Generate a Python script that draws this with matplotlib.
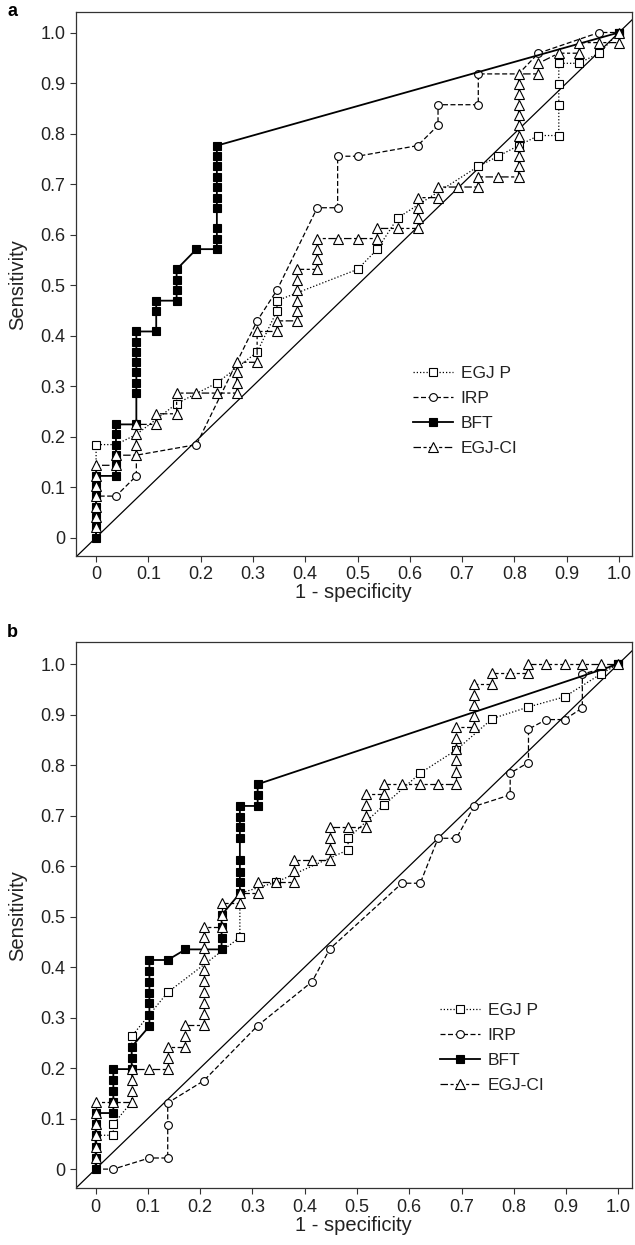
import matplotlib
matplotlib.use("Agg")
import matplotlib.pyplot as plt

plt.rcParams['font.family'] = ['Liberation Sans', 'DejaVu Sans']

# ---------------- Panel a data ----------------
a_egjp_x = [0, 0, 0.038, 0.077, 0.154, 0.231, 0.308, 0.346, 0.346, 0.500, 0.538, 0.577, 0.731, 0.769,
            0.808, 0.846, 0.885, 0.885, 0.885, 0.885, 0.923, 0.962, 1.0]
a_egjp_y = [0, 0.184, 0.184, 0.204, 0.265, 0.306, 0.367, 0.449, 0.469, 0.531, 0.571, 0.633, 0.735, 0.755,
            0.776, 0.796, 0.796, 0.857, 0.898, 0.939, 0.939, 0.959, 1.0]

a_irp_x = [0, 0, 0.038, 0.077, 0.077, 0.192, 0.308, 0.346, 0.423, 0.462, 0.462, 0.500, 0.615, 0.654,
           0.654, 0.731, 0.731, 0.808, 0.846, 0.962, 1.0]
a_irp_y = [0, 0.082, 0.082, 0.122, 0.163, 0.184, 0.429, 0.490, 0.653, 0.653, 0.755, 0.755, 0.776, 0.816,
           0.857, 0.857, 0.918, 0.918, 0.959, 1.0, 1.0]

a_bft_x = [0, 0, 0, 0, 0, 0, 0,
           0.038, 0.038, 0.038, 0.038, 0.038, 0.038,
           0.077, 0.077, 0.077, 0.077, 0.077, 0.077, 0.077, 0.077,
           0.115, 0.115, 0.115,
           0.154, 0.154, 0.154, 0.154,
           0.192,
           0.231, 0.231, 0.231, 0.231, 0.231, 0.231, 0.231, 0.231, 0.231, 0.231,
           1.0]
a_bft_y = [0, 0.020, 0.041, 0.061, 0.082, 0.102, 0.122,
           0.122, 0.143, 0.163, 0.184, 0.204, 0.224,
           0.224, 0.286, 0.306, 0.327, 0.347, 0.367, 0.388, 0.408,
           0.408, 0.449, 0.469,
           0.469, 0.490, 0.510, 0.531,
           0.571,
           0.571, 0.592, 0.612, 0.653, 0.673, 0.694, 0.714, 0.735, 0.755, 0.776,
           1.0]

a_ci_x = [0, 0, 0, 0, 0, 0, 0, 0,
          0.038, 0.038,
          0.077, 0.077, 0.077, 0.077,
          0.115, 0.115,
          0.154, 0.154,
          0.192, 0.231,
          0.269, 0.269, 0.269, 0.269,
          0.308, 0.308,
          0.346, 0.346,
          0.385, 0.385, 0.385, 0.385, 0.385, 0.385,
          0.423, 0.423, 0.423, 0.423,
          0.462, 0.500,
          0.538, 0.538,
          0.577,
          0.615, 0.615, 0.615, 0.615,
          0.654, 0.654,
          0.692,
          0.731, 0.731,
          0.769,
          0.808, 0.808, 0.808, 0.808, 0.808, 0.808, 0.808, 0.808, 0.808, 0.808, 0.808,
          0.846, 0.846,
          0.885,
          0.923, 0.923,
          0.962,
          1.0, 1.0]
a_ci_y = [0, 0.020, 0.041, 0.061, 0.082, 0.102, 0.122, 0.143,
          0.143, 0.163,
          0.163, 0.184, 0.204, 0.224,
          0.224, 0.245,
          0.245, 0.286,
          0.286, 0.286,
          0.286, 0.306, 0.327, 0.347,
          0.347, 0.408,
          0.408, 0.429,
          0.429, 0.449, 0.469, 0.490, 0.510, 0.531,
          0.531, 0.551, 0.571, 0.592,
          0.592, 0.592,
          0.592, 0.612,
          0.612,
          0.612, 0.633, 0.653, 0.673,
          0.673, 0.694,
          0.694,
          0.694, 0.714,
          0.714,
          0.714, 0.735, 0.755, 0.776, 0.796, 0.816, 0.837, 0.857, 0.878, 0.898, 0.918,
          0.918, 0.939,
          0.959,
          0.959, 0.980,
          0.980,
          0.980, 1.0]

# ---------------- Panel b data ----------------
b_egjp_x = [0, 0, 0.034, 0.034, 0.069, 0.069, 0.138, 0.276, 0.276, 0.345, 0.483, 0.483, 0.552, 0.621,
            0.690, 0.759, 0.828, 0.897, 0.966, 1.0]
b_egjp_y = [0, 0.067, 0.067, 0.089, 0.133, 0.263, 0.350, 0.459, 0.546, 0.568, 0.632, 0.655, 0.721, 0.784,
            0.830, 0.892, 0.915, 0.935, 0.980, 1.0]

b_irp_x = [0, 0.034, 0.103, 0.138, 0.138, 0.138, 0.207, 0.310, 0.414, 0.448, 0.586, 0.621, 0.655, 0.690,
           0.724, 0.793, 0.793, 0.828, 0.828, 0.862, 0.897, 0.931, 0.931, 1.0]
b_irp_y = [0, 0, 0.022, 0.022, 0.087, 0.131, 0.175, 0.284, 0.371, 0.436, 0.566, 0.566, 0.655, 0.655,
           0.718, 0.741, 0.784, 0.805, 0.871, 0.890, 0.890, 0.913, 0.980, 1.0]

b_bft_x = [0, 0, 0, 0, 0, 0,
           0.034, 0.034, 0.034, 0.034, 0.034,
           0.069, 0.069, 0.069,
           0.103, 0.103, 0.103, 0.103, 0.103, 0.103, 0.103,
           0.138, 0.172,
           0.241, 0.241, 0.241, 0.241,
           0.276, 0.276, 0.276, 0.276, 0.276, 0.276, 0.276, 0.276,
           0.310, 0.310, 0.310,
           1.0]
b_bft_y = [0, 0.022, 0.044, 0.067, 0.089, 0.111,
           0.111, 0.133, 0.154, 0.176, 0.198,
           0.198, 0.220, 0.242,
           0.283, 0.305, 0.328, 0.349, 0.371, 0.393, 0.414,
           0.414, 0.435,
           0.435, 0.457, 0.480, 0.503,
           0.546, 0.569, 0.589, 0.611, 0.655, 0.677, 0.697, 0.719,
           0.719, 0.741, 0.762,
           1.0]

b_ci_x = [0, 0, 0, 0, 0, 0, 0,
          0.034,
          0.069, 0.069, 0.069, 0.069,
          0.103,
          0.138, 0.138, 0.138,
          0.172, 0.172, 0.172,
          0.207, 0.207, 0.207, 0.207, 0.207, 0.207, 0.207, 0.207, 0.207, 0.207,
          0.241, 0.241, 0.241,
          0.276, 0.276,
          0.310, 0.310,
          0.345,
          0.379, 0.379, 0.379,
          0.414,
          0.448, 0.448, 0.448, 0.448,
          0.483,
          0.517, 0.517, 0.517, 0.517,
          0.552, 0.552,
          0.586, 0.621, 0.655,
          0.690, 0.690, 0.690, 0.690, 0.690, 0.690,
          0.724, 0.724, 0.724, 0.724, 0.724,
          0.759, 0.759,
          0.793,
          0.828, 0.828,
          0.862, 0.897, 0.931, 0.966, 1.0]
b_ci_y = [0, 0.022, 0.044, 0.067, 0.089, 0.111, 0.133,
          0.133,
          0.133, 0.155, 0.176, 0.198,
          0.198,
          0.198, 0.220, 0.242,
          0.242, 0.263, 0.285,
          0.285, 0.307, 0.328, 0.351, 0.372, 0.394, 0.415, 0.437, 0.459, 0.480,
          0.480, 0.503, 0.526,
          0.526, 0.546,
          0.546, 0.568,
          0.568,
          0.568, 0.590, 0.612,
          0.612,
          0.612, 0.634, 0.655, 0.677,
          0.677,
          0.677, 0.699, 0.721, 0.743,
          0.743, 0.763,
          0.763, 0.763, 0.763,
          0.763, 0.786, 0.809, 0.831, 0.853, 0.875,
          0.875, 0.897, 0.918, 0.939, 0.961,
          0.961, 0.982,
          0.982,
          0.982, 1.0,
          1.0, 1.0, 1.0, 1.0, 1.0]

tick_vals = [0, 0.1, 0.2, 0.3, 0.4, 0.5, 0.6, 0.7, 0.8, 0.9, 1.0]
tick_labels = ['0', '0.1', '0.2', '0.3', '0.4', '0.5', '0.6', '0.7', '0.8', '0.9', '1.0']
series_names = ['EGJ P', 'IRP', 'BFT', 'EGJ-CI']

W, H = 635, 1245
fig = plt.figure(figsize=(W / 100, H / 100), dpi=100)
TXT = '#222222'


def hidden_mask(xs, ys, hide):
    return [i for i in range(len(xs)) if (xs[i], ys[i]) not in hide]


def draw_panel(ax, data, xlim, ylim, leg_anchor, letter, letter_y):
    (ex, ey), (ix, iy), (bx, by), (cx, cy), hides = data
    ax.plot([-0.2, 1.2], [-0.2, 1.2], color='black', lw=0.9, zorder=1)
    lw = 0.9
    ax.plot(ex, ey, color='black', lw=lw, ls=(0, (1, 1.6)), marker='s', ms=5.2,
            mfc='white', mec='black', mew=0.8, markevery=hidden_mask(ex, ey, hides[0]),
            label=series_names[0], zorder=2)
    ax.plot(ix, iy, color='black', lw=lw, ls=(0, (4, 2)), marker='o', ms=5.6,
            mfc='white', mec='black', mew=0.8, markevery=hidden_mask(ix, iy, hides[1]),
            label=series_names[1], zorder=3)
    ax.plot(bx, by, color='black', lw=1.3, ls='-', marker='s', ms=5.2,
            mfc='black', mec='black', mew=0.8, markevery=hidden_mask(bx, by, hides[2]),
            label=series_names[2], zorder=4)
    ax.plot(cx, cy, color='black', lw=lw, ls=(0, (6, 2, 2.5, 2)), marker='^', ms=6.8,
            mfc='white', mec='black', mew=0.8, markevery=hidden_mask(cx, cy, hides[3]),
            label=series_names[3], zorder=5)
    ax.set_xlim(*xlim)
    ax.set_ylim(*ylim)
    ax.set_xticks(tick_vals)
    ax.set_xticklabels(tick_labels)
    ax.set_yticks(tick_vals)
    ax.set_yticklabels(tick_labels)
    ax.tick_params(direction='out', length=4.5, width=0.8, colors='#333333',
                   labelcolor=TXT, labelsize=13, pad=3)
    for s in ax.spines.values():
        s.set_color('#333333')
        s.set_linewidth(0.9)
    ax.set_xlabel('1 - specificity', fontsize=14.5, color=TXT)
    ax.set_ylabel('Sensitivity', fontsize=14.5, color=TXT)
    ax.xaxis.set_label_coords(0.5, -0.05)
    ax.yaxis.set_label_coords(-0.088, 0.5)
    leg = ax.legend(loc='upper left', bbox_to_anchor=leg_anchor, frameon=False,
                    fontsize=12.5, handlelength=2.3, handletextpad=0.45,
                    labelspacing=0.56, borderpad=0, borderaxespad=0)
    for t in leg.get_texts():
        t.set_color(TXT)
    fig.text(12 / W, 1 - letter_y / H, letter, fontsize=13, fontweight='bold',
             ha='center', va='center', color='black')


left = 75.7 / W
width = (632 - 75.7) / W
ax_a = fig.add_axes([left, 1 - 556 / H, width, (556 - 12.3) / H])
ax_b = fig.add_axes([left, 1 - 1188.3 / H, width, (1188.3 - 642.3) / H])

hides_a = [{(0, 0), (0.038, 0.184), (0.077, 0.204)},
           {(0, 0), (0, 0.082), (0.077, 0.163), (0.808, 0.918), (1.0, 1.0)},
           set(),
           {(0, 0)}]
hides_b = [{(0, 0), (0, 0.067), (0.069, 0.133), (0.276, 0.546)},
           {(0, 0), (1.0, 1.0)},
           set(),
           {(0, 0)}]

draw_panel(ax_a, [(a_egjp_x, a_egjp_y), (a_irp_x, a_irp_y), (a_bft_x, a_bft_y),
                  (a_ci_x, a_ci_y), hides_a],
           (-0.039, 1.025), (-0.0366, 1.04),
           ((413 - 75.7) / 556.3, (556 - 366) / 543.7), 'a', 12)
draw_panel(ax_b, [(b_egjp_x, b_egjp_y), (b_irp_x, b_irp_y), (b_bft_x, b_bft_y),
                  (b_ci_x, b_ci_y), hides_b],
           (-0.038, 1.026), (-0.038, 1.043),
           ((440 - 75.7) / 556.3, (1188.3 - 1003) / 546), 'b', 632)

fig.savefig('out.png', dpi=100)
